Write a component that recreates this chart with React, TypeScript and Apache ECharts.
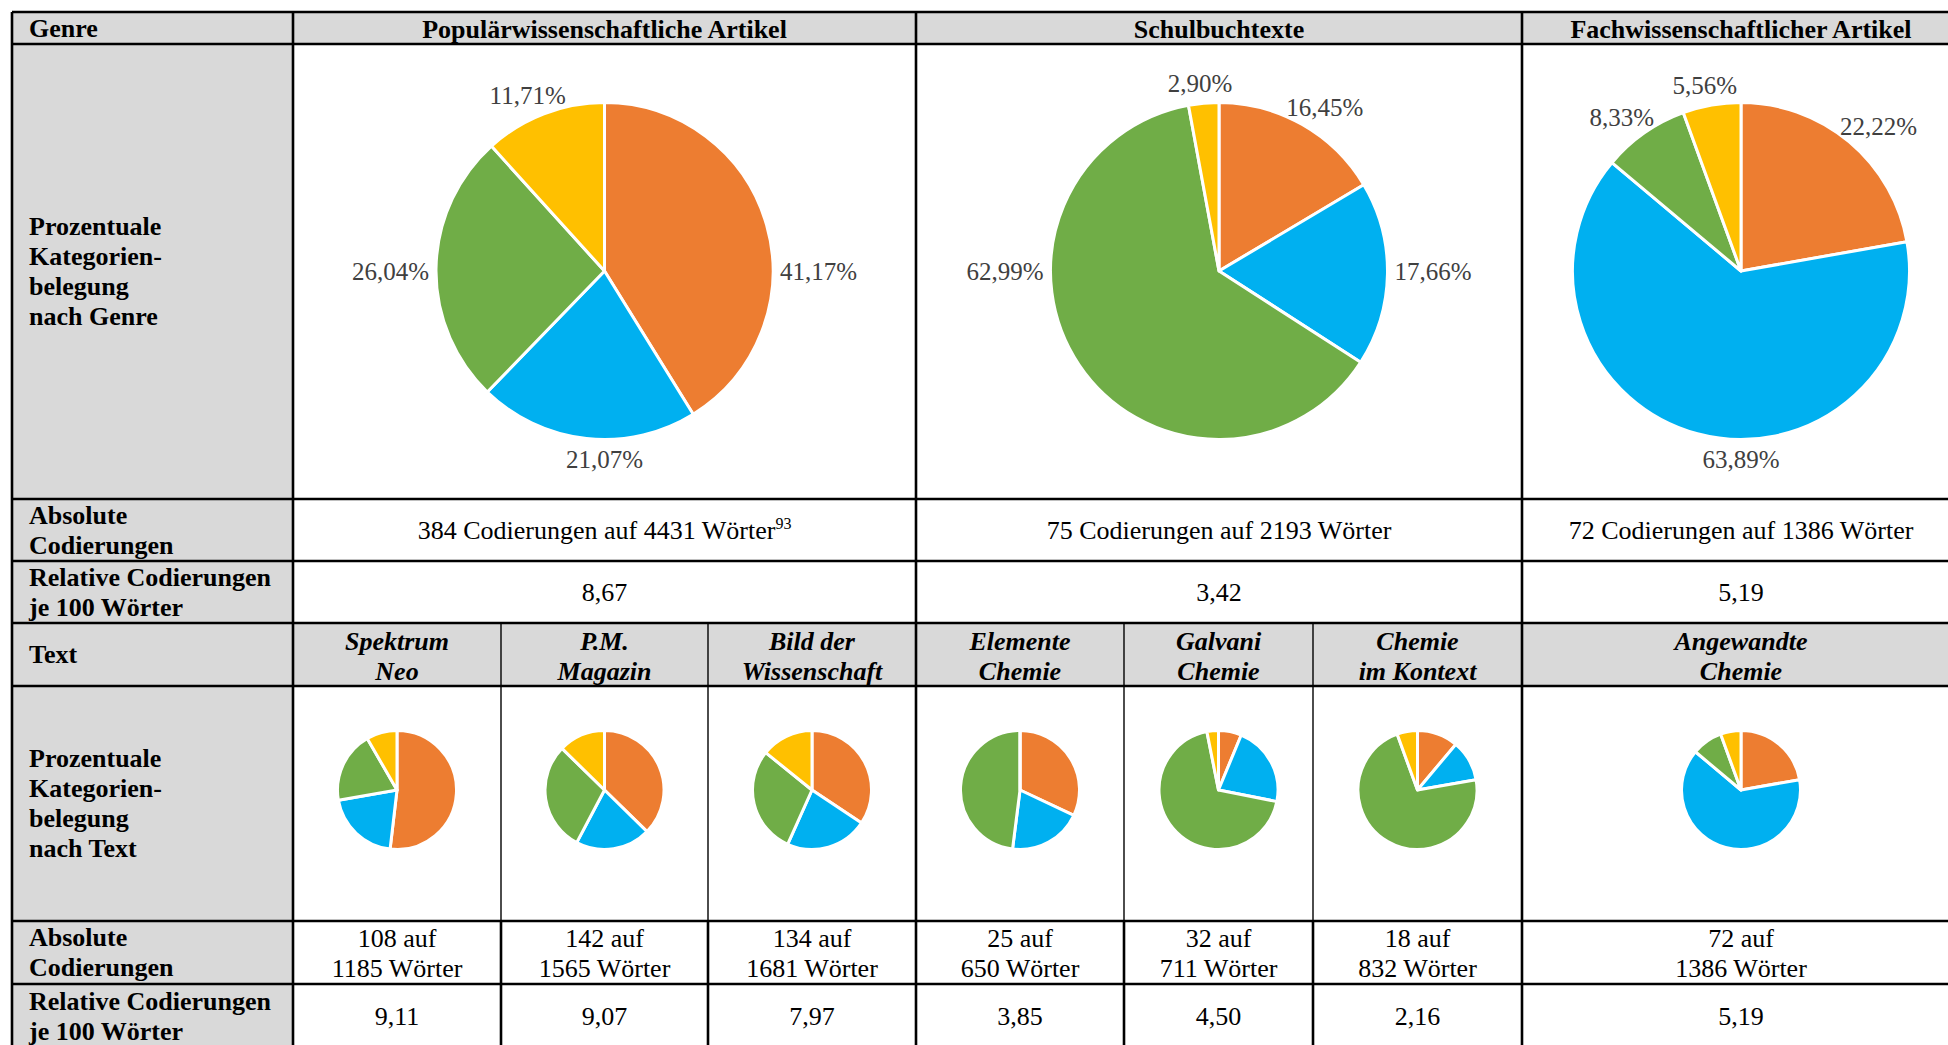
import React, { useEffect, useRef } from 'react';
import * as echarts from 'echarts';

// ---------- data ----------
const categoryColors = ['#ED7D31', '#00B0F0', '#70AD47', '#FFC000'];
const categoryNames = ['Kategorie 1', 'Kategorie 2', 'Kategorie 3', 'Kategorie 4'];

const genreNames = ['Populärwissenschaftliche Artikel', 'Schulbuchtexte', 'Fachwissenschaftlicher Artikel'];
const popShares = [41.17, 21.07, 26.04, 11.71];
const schulShares = [16.45, 17.66, 62.99, 2.9];
const fachShares = [22.22, 63.89, 8.33, 5.56];
const genreAbsolute = ['384 Codierungen auf 4431 Wörter', '75 Codierungen auf 2193 Wörter', '72 Codierungen auf 1386 Wörter'];
const genreFootnote = ['93', '', ''];
const genreRelative = ['8,67', '3,42', '5,19'];

const textNames = ['Spektrum\nNeo', 'P.M.\nMagazin', 'Bild der\nWissenschaft', 'Elemente\nChemie', 'Galvani\nChemie', 'Chemie\nim Kontext', 'Angewandte\nChemie'];
const spektrumShares = [51.85, 20.37, 19.44, 8.33];
const pmShares = [37.32, 20.42, 29.58, 12.68];
const bildShares = [34.33, 22.39, 29.1, 14.18];
const elementeShares = [32.0, 20.0, 48.0, 0];
const galvaniShares = [6.25, 21.88, 68.75, 3.13];
const kontextShares = [11.11, 11.11, 72.22, 5.56];
const angewandteShares = [22.22, 63.89, 8.33, 5.56];
const textAbsolute = ['108 auf\n1185 Wörter', '142 auf\n1565 Wörter', '134 auf\n1681 Wörter', '25 auf\n650 Wörter', '32 auf\n711 Wörter', '18 auf\n832 Wörter', '72 auf\n1386 Wörter'];
const textRelative = ['9,11', '9,07', '7,97', '3,85', '4,50', '2,16', '5,19'];

const rowLabels = [
  'Genre',
  'Prozentuale\nKategorien-\nbelegung\nnach Genre',
  'Absolute\nCodierungen',
  'Relative Codierungen\nje 100 Wörter',
  'Text',
  'Prozentuale\nKategorien-\nbelegung\nnach Text',
  'Absolute\nCodierungen',
  'Relative Codierungen\nje 100 Wörter',
];

// ---------- layout ----------
const W = 1948;
const H = 1045;
const X = { L: 12, C0: 293, C1: 501, C2: 708, C3: 916, C4: 1124, C5: 1313, C6: 1522, R: 1960 };
const Y = { T: 12, H1: 44, P1: 499, A1: 561, R1: 623, T2: 686, P2: 921, A2: 984, B: 1048 };
const rowBounds = [
  [Y.T, Y.H1], [Y.H1, Y.P1], [Y.P1, Y.A1], [Y.A1, Y.R1],
  [Y.R1, Y.T2], [Y.T2, Y.P2], [Y.P2, Y.A2], [Y.A2, Y.B],
];
const genreCols = [[X.C0, X.C3], [X.C3, X.C6], [X.C6, X.R]];
const textCols = [[X.C0, X.C1], [X.C1, X.C2], [X.C2, X.C3], [X.C3, X.C4], [X.C4, X.C5], [X.C5, X.C6], [X.C6, X.R]];
const BIG_R = 168.5;
const SMALL_R = 59.5;
const BIG_CY = 271;
const SMALL_CY = 790;
const GREY = '#D9D9D9';
const FONT = "'Liberation Serif', 'Times New Roman', Times, serif";
const FS = 26;
const LH = 30;

const mid = (a: number[]) => (a[0] + a[1]) / 2;
const fmt = (v: number) => v.toFixed(2).replace('.', ',');

function outsideLabelLayout(values: number[], cx: number, cy: number, r: number) {
  const total = values.reduce((s, v) => s + v, 0);
  return (params: any) => {
    const i = params.dataIndex;
    let start = 0;
    for (let k = 0; k < i; k++) start += values[k];
    const a0 = (start / total) * 360;
    const a1 = ((start + values[i]) / total) * 360;
    const m = (a0 + a1) / 2;
    let ang = m;
    let best = Infinity;
    for (const c of [90, 180, 270]) {
      if (c > a0 && c < a1 && Math.abs(c - m) < best) {
        best = Math.abs(c - m);
        ang = c;
      }
    }
    const rad = (ang * Math.PI) / 180;
    const dx = Math.sin(rad);
    const dy = -Math.cos(rad);
    const w = params.labelRect.width;
    const h = params.labelRect.height;
    const gap = 7;
    return {
      x: cx + dx * (r + gap) + (dx * w) / 2,
      y: cy + dy * (r + gap) + (dy * h) / 2,
      align: 'center',
      verticalAlign: 'middle',
    };
  };
}

function pieSeries(values: number[], cx: number, cy: number, r: number, withLabels: boolean) {
  return {
    type: 'pie',
    center: [cx, cy],
    radius: r,
    startAngle: 90,
    clockwise: true,
    silent: true,
    avoidLabelOverlap: false,
    color: categoryColors,
    itemStyle: { borderColor: '#ffffff', borderWidth: 3 },
    label: withLabels
      ? {
          show: true,
          position: 'outside',
          formatter: (p: any) => fmt(p.value) + '%',
          fontFamily: FONT,
          fontSize: 25,
          color: '#404040',
        }
      : { show: false },
    labelLine: { show: false },
    labelLayout: withLabels ? outsideLabelLayout(values, cx, cy, r) : undefined,
    emphasis: { disabled: true },
    data: values.map((v, i) => ({ name: categoryNames[i], value: v })),
  };
}

function textEl(x: number, y: number, text: string, opts: any = {}) {
  return {
    type: 'text',
    z: 20,
    silent: true,
    style: {
      x,
      y,
      text,
      fill: '#000000',
      fontFamily: FONT,
      fontSize: FS,
      lineHeight: LH,
      align: opts.align || 'center',
      verticalAlign: 'middle',
      fontWeight: opts.bold ? 'bold' : 'normal',
      fontStyle: opts.italic ? 'italic' : 'normal',
      ...(opts.rich ? { rich: opts.rich } : {}),
    },
  };
}

function lineEl(x1: number, y1: number, x2: number, y2: number, lw: number) {
  return {
    type: 'line',
    z: 15,
    silent: true,
    shape: { x1, y1, x2, y2 },
    style: { stroke: '#000000', lineWidth: lw },
  };
}

function rectEl(x: number, y: number, w: number, h: number) {
  return {
    type: 'rect',
    z: 0,
    silent: true,
    shape: { x, y, width: w, height: h },
    style: { fill: GREY },
  };
}

function buildOption() {
  const graphic: any[] = [];
  // backgrounds
  graphic.push(rectEl(X.L, Y.T, X.C0 - X.L, Y.B - Y.T));
  graphic.push(rectEl(X.C0, Y.T, X.R - X.C0, Y.H1 - Y.T));
  graphic.push(rectEl(X.C0, Y.R1, X.R - X.C0, Y.T2 - Y.R1));

  // grid lines
  const TH = 2.6;
  const TN = 1.4;
  [Y.T, Y.H1, Y.P1, Y.A1, Y.R1, Y.T2, Y.P2, Y.A2, Y.B].forEach((y) => graphic.push(lineEl(X.L, y, X.R, y, TH)));
  [X.L, X.C0, X.C3, X.C6].forEach((x) => graphic.push(lineEl(x, Y.T, x, Y.B, TH)));
  [X.C1, X.C2, X.C4, X.C5].forEach((x) => {
    graphic.push(lineEl(x, Y.R1, x, Y.P2, TN));
    graphic.push(lineEl(x, Y.P2, x, Y.B, TH));
  });

  // row labels
  rowLabels.forEach((t, i) => graphic.push(textEl(X.L + 17, mid(rowBounds[i]), t, { align: 'left', bold: true })));

  // genre headers and rows
  genreNames.forEach((g, i) => {
    const cx = mid(genreCols[i]);
    graphic.push(textEl(cx, mid([Y.T, Y.H1]) + 1, g, { bold: true }));
    const fn = genreFootnote[i];
    if (fn) {
      graphic.push(
        textEl(cx, mid([Y.P1, Y.A1]), `{m|${genreAbsolute[i]}}{s|${fn}}`, {
          rich: {
            m: { fontFamily: FONT, fontSize: FS, lineHeight: LH, fill: '#000000' },
            s: { fontFamily: FONT, fontSize: 16, lineHeight: LH, verticalAlign: 'top', fill: '#000000' },
          },
        })
      );
    } else {
      graphic.push(textEl(cx, mid([Y.P1, Y.A1]), genreAbsolute[i]));
    }
    graphic.push(textEl(cx, mid([Y.A1, Y.R1]), genreRelative[i]));
  });

  // text headers and rows
  textNames.forEach((t, i) => {
    const cx = mid(textCols[i]);
    graphic.push(textEl(cx, mid([Y.R1, Y.T2]) + 2, t, { bold: true, italic: true }));
    graphic.push(textEl(cx, mid([Y.P2, Y.A2]) + 1, textAbsolute[i]));
    graphic.push(textEl(cx, mid([Y.A2, Y.B]), textRelative[i]));
  });

  const genreShareList = [popShares, schulShares, fachShares];
  const textShareList = [spektrumShares, pmShares, bildShares, elementeShares, galvaniShares, kontextShares, angewandteShares];

  const series: any[] = [];
  genreShareList.forEach((vals, i) => series.push(pieSeries(vals, mid(genreCols[i]), BIG_CY, BIG_R, true)));
  textShareList.forEach((vals, i) => series.push(pieSeries(vals, mid(textCols[i]), SMALL_CY, SMALL_R, false)));

  return {
    animation: false,
    backgroundColor: '#ffffff',
    tooltip: { show: false },
    graphic: { elements: graphic },
    series,
  };
}

export default function App() {
  const ref = useRef<HTMLDivElement>(null);
  useEffect(() => {
    if (!ref.current) return;
    const chart = echarts.init(ref.current, undefined, { renderer: 'svg', width: W, height: H });
    chart.setOption(buildOption() as any);
    return () => chart.dispose();
  }, []);
  return (
    <div
      ref={ref}
      style={{ position: 'absolute', left: 0, top: 0, width: W, height: H, background: '#ffffff' }}
    />
  );
}
